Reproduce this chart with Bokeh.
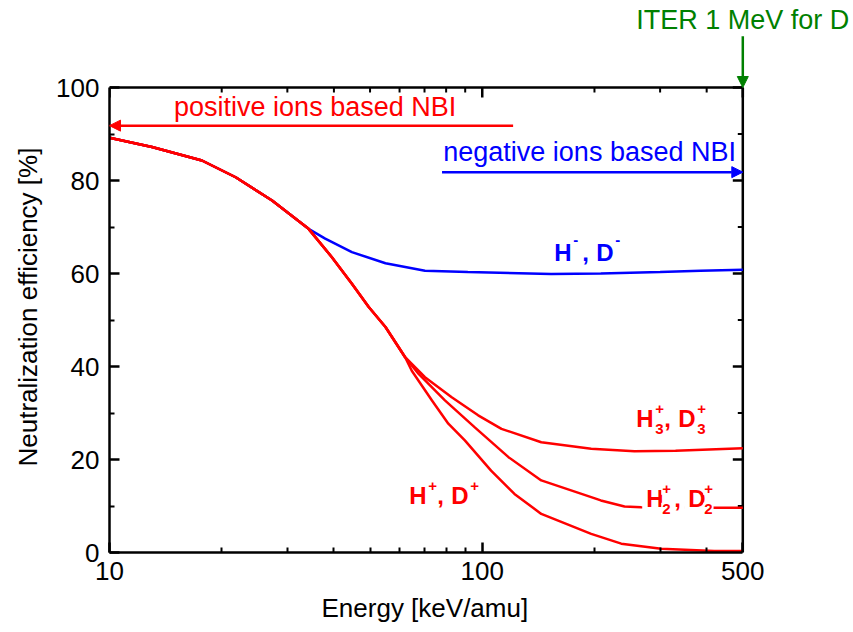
import math

from bokeh.plotting import figure
from bokeh.models import (FixedTicker, Label, Arrow, Range1d, NormalHead, Title,
                          CustomJSTickFormatter)
from bokeh.embed import file_html
from bokeh.resources import INLINE

# Beam energy [keV/amu] and neutralization efficiency [%] for each ion species
h_minus_energy = [10, 13, 17.7, 21.8, 27.3, 34.2, 37.9, 44.7, 55, 70.2, 91.5,
                  153, 208, 300, 385, 500]
h_minus_eff = [89.2, 87.2, 84.3, 80.7, 75.7, 69.6, 67.5, 64.6, 62.2, 60.6, 60.3,
               59.9, 60.0, 60.3, 60.6, 60.8]

h1_energy = [10, 13, 17.7, 21.8, 27.3, 34.2, 39.5, 44.7, 49.6, 55, 59.6, 62.1,
             64.7, 73.3, 81.1, 89.8, 105.6, 122, 144, 196, 236, 302, 419, 500]
h1_eff = [89.2, 87.2, 84.3, 80.7, 75.7, 69.6, 63.5, 57.8, 52.8, 48.5, 44.2, 42.0,
          39.1, 32.7, 27.7, 24.1, 17.6, 12.6, 8.3, 4.0, 1.9, 0.8, 0.3, 0.3]

h2_energy = [10, 13, 17.7, 21.8, 27.3, 34.2, 39.5, 44.7, 49.6, 55, 59.6, 62.1,
             67.5, 79.4, 95.5, 117.6, 144, 196, 208, 240.8, 267, 424, 500]
h2_eff = [89.2, 87.2, 84.3, 80.7, 75.7, 69.6, 63.5, 57.8, 52.8, 48.5, 44.2, 42.0,
          38.4, 32.7, 26.9, 20.5, 15.5, 11.9, 11.2, 9.9, 9.75, 9.6, 9.6]

h3_energy = [10, 13, 17.7, 21.8, 27.3, 34.2, 39.5, 44.7, 49.6, 55, 59.6, 62.1,
             70.2, 82.8, 97.5, 112.6, 144, 196, 256, 330, 500]
h3_eff = [89.2, 87.2, 84.3, 80.7, 75.7, 69.6, 63.5, 57.8, 52.8, 48.5, 44.2, 42.0,
          37.7, 33.4, 29.5, 26.6, 23.7, 22.3, 21.8, 21.9, 22.4]

# Axis ticks
x_major = [10, 100, 500]
x_minor = [20, 30, 40, 50, 60, 70, 80, 90, 200, 300, 400]
y_major = [0, 20, 40, 60, 80, 100]
y_minor = [10, 30, 50, 70, 90]

# Energy ranges of the two NBI technologies: (start, end, level)
positive_nbi = (121, 10, 91.8)
negative_nbi = (78, 500, 81.8)
# ITER design energy for D [keV/amu], with the marker arrow and caption heights
iter_energy = 500
iter_arrow = (111.0, 100.0)
iter_text_y = 112.4

# Species label anchors (energy, efficiency)
label_h_minus = (156, 62.4)
label_h3 = (258.8, 26.6)
label_h2 = (268.6, 9.4)
label_h1 = (63.7, 10.1)

RED = "#ff0000"
BLUE = "#0000ff"
GREEN = "#008000"
FONT = "Liberation Sans"
LIFT = 10   # pixel lift so label baselines sit on their anchors

# Page geometry: the axes box sits inside a drawing area that reaches the
# top and right page edges, so the ITER caption above the box stays visible
W, H = 853, 632
LEFT, RIGHT, TOP, BOTTOM = 107, 111, 87, 80
BOX_W = W - LEFT - RIGHT
BOX_H = H - TOP - BOTTOM

x_lo, x_hi = 10, 500
y_lo, y_hi = 0, 100
decades_per_px = math.log10(x_hi / x_lo) / BOX_W
pct_per_px = (y_hi - y_lo) / BOX_H

p = figure(width=W, height=H, x_axis_type="log",
           x_range=Range1d(x_lo, x_hi * 10 ** (RIGHT * decades_per_px)),
           y_range=Range1d(y_lo, y_hi + TOP * pct_per_px),
           output_backend="svg", toolbar_location=None,
           min_border=0, min_border_left=LEFT, min_border_right=0,
           min_border_top=0, min_border_bottom=BOTTOM)
p.xgrid.visible = False
p.ygrid.visible = False
p.outline_line_color = None
p.background_fill_color = "white"
p.border_fill_color = "white"

plain = CustomJSTickFormatter(code="return String(tick)")


def style_axis(ax):
    ax.axis_line_width = 2.5
    ax.axis_line_color = "black"
    ax.major_tick_in = 10
    ax.major_tick_out = 0
    ax.minor_tick_in = 5
    ax.minor_tick_out = 0
    ax.major_tick_line_width = 2.5
    ax.minor_tick_line_width = 2
    ax.major_label_text_font = FONT
    ax.major_label_text_font_size = "26px"
    ax.major_label_text_color = "black"
    ax.major_label_text_line_height = 1.0
    ax.formatter = plain


xb = p.xaxis[0]
xb.ticker = FixedTicker(ticks=x_major, minor_ticks=x_minor)
xb.bounds = (x_lo, x_hi)
style_axis(xb)
xb.major_label_standoff = 9

yl = p.yaxis[0]
yl.ticker = FixedTicker(ticks=y_major, minor_ticks=y_minor)
yl.bounds = (y_lo, y_hi)
style_axis(yl)
yl.major_label_standoff = 10


# Axis titles, centred on the axes box rather than on the whole drawing area
def axis_title(text, side, offset, standoff):
    p.add_layout(Title(text=text, align="left", offset=offset, standoff=standoff,
                       text_font=FONT, text_font_size="26px",
                       text_font_style="normal", text_color="black"), side)


axis_title("Energy [keV/amu]", "below", 212, 16)
axis_title("Neutralization efficiency [%]", "left", 86, 21)

# Top and right edges of the box, with mirrored inward ticks
p.segment(x0=[x_lo, x_hi], y0=[y_hi, y_lo], x1=[x_hi, x_hi], y1=[y_hi, y_hi],
          line_color="black", line_width=2.5)
p.ray(x=x_major, y=[y_hi] * len(x_major), length=10, length_units="screen",
      angle=-math.pi / 2, line_color="black", line_width=2.5)
p.ray(x=x_minor, y=[y_hi] * len(x_minor), length=5, length_units="screen",
      angle=-math.pi / 2, line_color="black", line_width=2)
p.ray(x=[x_hi] * len(y_major), y=y_major, length=10, length_units="screen",
      angle=math.pi, line_color="black", line_width=2.5)
p.ray(x=[x_hi] * len(y_minor), y=y_minor, length=5, length_units="screen",
      angle=math.pi, line_color="black", line_width=2)


def note(text, x, y, color, align="left"):
    p.add_layout(Label(x=x, y=y, text=text, text_color=color, text_font=FONT,
                       text_font_size="27px", text_align=align, y_offset=LIFT,
                       text_baseline="alphabetic"))


note("positive ions based NBI", 14.9, 93.6, RED)
note("negative ions based NBI", 78.6, 83.9, BLUE)
note("ITER 1 MeV for D", iter_energy, iter_text_y, GREEN, align="center")

# Efficiency curves
p.line(h_minus_energy, h_minus_eff, line_color=BLUE, line_width=2.5)
p.line(h3_energy, h3_eff, line_color=RED, line_width=2.5)
p.line(h2_energy, h2_eff, line_color=RED, line_width=2.5)
p.line(h1_energy, h1_eff, line_color=RED, line_width=2.5)


def arrow(x0, x1, y0, y1, color):
    head = NormalHead(size=11, fill_color=color, line_color=color, line_width=1)
    p.add_layout(Arrow(end=head, x_start=x0, y_start=y0, x_end=x1, y_end=y1,
                       line_color=color, line_width=2.5))


arrow(positive_nbi[0], positive_nbi[1], positive_nbi[2], positive_nbi[2], RED)
arrow(negative_nbi[0], negative_nbi[1], negative_nbi[2], negative_nbi[2], BLUE)
arrow(iter_energy, iter_energy, iter_arrow[0], iter_arrow[1], GREEN)


def species(anchor, color, charge, sub=None, bg=None):
    x, y = anchor
    main = [("H", 0), (",", 28), ("D", 42)]
    small = []
    sup_dy = 12 if charge == "-" else 10
    for dx in (19, 61):
        small.append((charge, dx, sup_dy))
        if sub:
            small.append((sub, dx, -10))
    for text, dx in main:
        lab = Label(x=x, y=y, text=text, x_offset=dx, y_offset=LIFT,
                    text_color=color, text_font=FONT, text_font_size="24px",
                    text_font_style="bold", text_baseline="alphabetic")
        if bg:
            lab.background_fill_color = bg
            lab.padding = 4
        p.add_layout(lab)
    for text, dx, dy in small:
        lab = Label(x=x, y=y, text=text, x_offset=dx, y_offset=dy + LIFT,
                    text_color=color, text_font=FONT, text_font_size="15px",
                    text_font_style="bold", text_baseline="alphabetic")
        if bg:
            lab.background_fill_color = bg
            lab.padding = 1
        p.add_layout(lab)


species(label_h_minus, BLUE, "-")
species(label_h3, RED, "+", "3")
species(label_h2, RED, "+", "2", bg="white")
species(label_h1, RED, "+")

open("out.html", "w").write(file_html(p, INLINE))
